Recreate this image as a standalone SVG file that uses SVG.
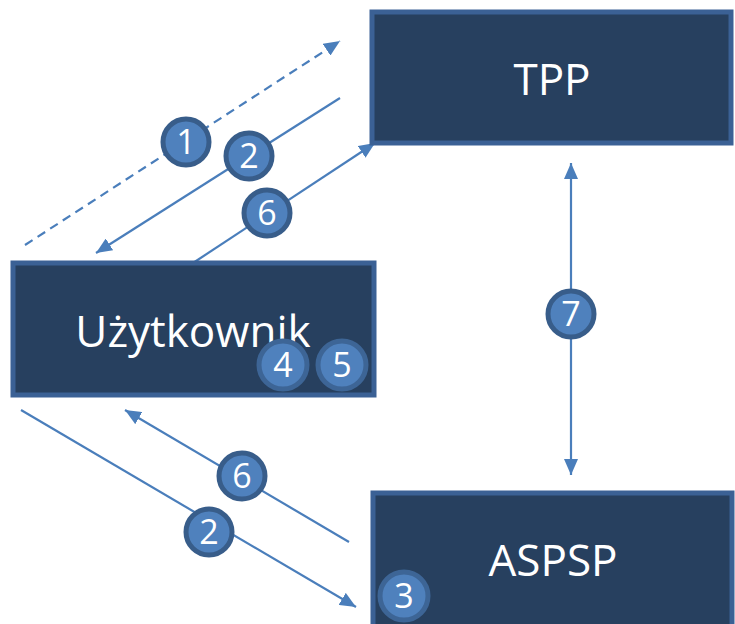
<svg xmlns="http://www.w3.org/2000/svg" width="735" height="624" viewBox="0 0 735 624">
<style>
.box{fill:#27405f;stroke:#3b6195;stroke-width:5}
.lbl{fill:#ffffff;font-family:"Open Sans","Noto Sans","Liberation Sans",sans-serif;font-size:44px;text-anchor:middle}
.ln{stroke:#4a7ebb;stroke-width:2.2;fill:none}
.dash{stroke-dasharray:9 6}
.bd circle{fill:#4f81bd;stroke:#385d8a;stroke-width:5}
.bd text{fill:#ffffff;font-family:"Open Sans","Noto Sans","Liberation Sans",sans-serif;font-size:34px;text-anchor:middle}
.bdin circle{fill:#4f81bd;stroke:#3d6596;stroke-width:5}
</style>
<defs>
<marker id="ah" markerUnits="userSpaceOnUse" markerWidth="16" markerHeight="14" viewBox="0 0 16 14" refX="16" refY="7" orient="auto-start-reverse">
<path d="M0,0 L16,7 L0,14 Z" fill="#4a7ebb"/>
</marker>
</defs>
<g id="connectors">
<line class="ln dash" x1="25" y1="245" x2="340" y2="41" marker-end="url(#ah)"/>
<line class="ln" x1="340" y1="98" x2="96" y2="253" marker-end="url(#ah)"/>
<line class="ln" x1="193" y1="263" x2="375" y2="143" marker-end="url(#ah)"/>
<line class="ln" x1="571" y1="163" x2="571" y2="475" marker-start="url(#ah)" marker-end="url(#ah)"/>
<line class="ln" x1="21" y1="410" x2="356" y2="607" marker-end="url(#ah)"/>
<line class="ln" x1="349" y1="542" x2="125" y2="410" marker-end="url(#ah)"/>
</g>
<g id="tpp">
<rect class="box" x="372" y="12" width="359" height="131"/>
<text class="lbl" x="552" y="95">TPP</text>
</g>
<g id="uzytkownik">
<rect class="box" x="13" y="263" width="361" height="132"/>
<text class="lbl" x="193" y="347">Użytkownik</text>
</g>
<g id="aspsp">
<rect class="box" x="373" y="493" width="359" height="140"/>
<text class="lbl" x="553" y="576">ASPSP</text>
</g>
<g id="badge1" class="bd"><circle cx="186" cy="142" r="23"/><text x="186" y="154">1</text></g>
<g id="badge2a" class="bd"><circle cx="249" cy="156" r="23"/><text x="249" y="168">2</text></g>
<g id="badge6a" class="bd"><circle cx="267" cy="213" r="23"/><text x="267" y="225">6</text></g>
<g id="badge7" class="bd"><circle cx="571" cy="314" r="23"/><text x="571" y="326">7</text></g>
<g id="badge4" class="bd bdin"><circle cx="283" cy="365" r="24"/><text x="283" y="377">4</text></g>
<g id="badge5" class="bd bdin"><circle cx="342" cy="365" r="24"/><text x="342" y="377">5</text></g>
<g id="badge6b" class="bd"><circle cx="242" cy="476" r="23"/><text x="242" y="488">6</text></g>
<g id="badge2b" class="bd"><circle cx="209" cy="532" r="23"/><text x="209" y="544">2</text></g>
<g id="badge3" class="bd bdin"><circle cx="404" cy="596" r="24"/><text x="404" y="608">3</text></g>
</svg>
